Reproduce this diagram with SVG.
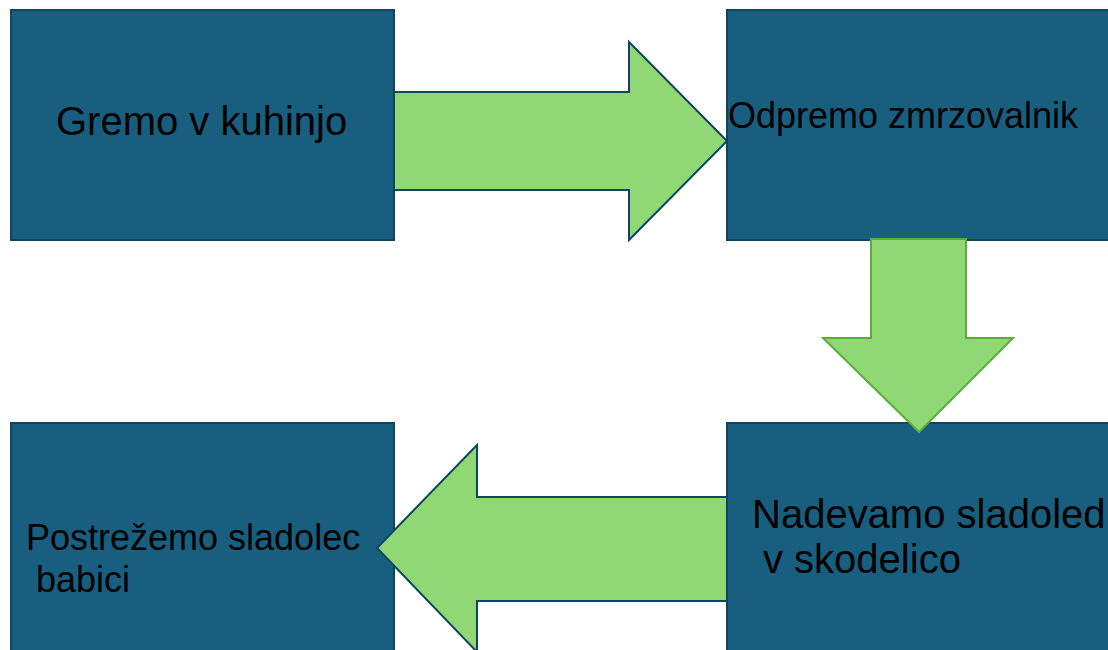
<svg xmlns="http://www.w3.org/2000/svg" width="1108" height="650" viewBox="0 0 1108 650">
<style>
.box{fill:#175e7f;stroke:#0f4561;stroke-width:2}
.arr{fill:#8fd874;stroke:#0f4561;stroke-width:2;stroke-linejoin:miter}
.arrg{fill:#8fd874;stroke:#5aad3a;stroke-width:2}
.t{font-family:"Liberation Sans",Arial,sans-serif;fill:#000}
</style>
<rect width="1108" height="650" fill="#ffffff"/>
<g id="node1">
<rect class="box" x="11" y="10" width="383" height="230"/>
<text class="t" x="56" y="135" font-size="40">Gremo v kuhinjo</text>
</g>
<g id="node2">
<rect class="box" x="727" y="10" width="390" height="230"/>
<text class="t" x="728" y="128" font-size="36">Odpremo zmrzovalnik</text>
</g>
<g id="node3">
<rect class="box" x="727" y="423" width="390" height="240"/>
<text class="t" x="752" y="528" font-size="40">Nadevamo sladoled</text>
<text class="t" x="763" y="573" font-size="40">v skodelico</text>
</g>
<g id="node4">
<rect class="box" x="11" y="423" width="383" height="240"/>
<text class="t" x="26" y="550" font-size="36">Postrežemo sladolec</text>
<text class="t" x="36" y="592" font-size="36">babici</text>
</g>
<g id="connectors">
<polygon class="arr" points="394,92 629,92 629,42 727,141 629,240 629,190 394,190"/>
<polygon class="arrg" points="871,239 966,239 966,338 1013,338 919,432 823,338 871,338"/>
<polygon class="arr" points="727,497 477,497 477,445 377,548 477,652 477,601 727,601"/>
</g>
</svg>
